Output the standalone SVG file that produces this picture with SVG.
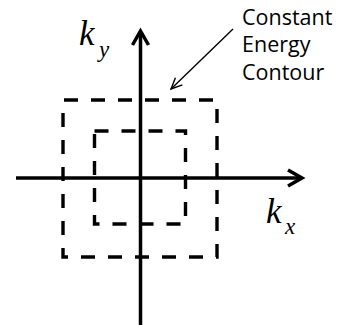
<svg xmlns="http://www.w3.org/2000/svg" width="339" height="325" viewBox="0 0 339 325">
<defs>
<style>
.axis{stroke:#000;stroke-width:3.5;fill:none}
.head{stroke:#000;stroke-width:3.5;fill:none;stroke-linejoin:miter;stroke-linecap:butt}
.contour{stroke:#000;stroke-width:3.4;fill:none;stroke-dasharray:14 13}
.lbl{font-family:"Open Sans","Liberation Sans",sans-serif;font-size:21.5px;fill:#000}
.math{font-family:"Liberation Serif","DejaVu Serif",serif;font-style:italic;fill:#000}
</style>
<marker id="open" markerWidth="14" markerHeight="14" refX="12" refY="6" orient="auto" markerUnits="userSpaceOnUse">
<path d="M1,1 L12,6 L1,11" fill="none" stroke="#000" stroke-width="1.4"/>
</marker>
</defs>
<g id="connectors">
<line class="axis" x1="140.5" y1="325" x2="140.5" y2="32"/>
<path class="head" d="M132.5,45 L140.5,31 L148.5,45"/>
<line class="axis" x1="16" y1="178" x2="301" y2="178"/>
<path class="head" d="M288,170 L302,178 L288,186"/>
<line x1="233" y1="29" x2="171" y2="89" stroke="#000" stroke-width="1.4" marker-end="url(#open)"/>
</g>
<g id="outer-contour">
<rect class="contour" x="63" y="100" width="154" height="157" stroke-dashoffset="-1"/>
</g>
<g id="inner-contour">
<rect class="contour" x="94.5" y="131" width="91" height="93"/>
</g>
<g id="label-ky">
<text class="math" x="79" y="45" font-size="35">k</text>
<text class="math" x="99" y="57" font-size="23">y</text>
</g>
<g id="label-kx">
<text class="math" x="266" y="223" font-size="35">k</text>
<text class="math" x="285" y="234" font-size="23">x</text>
</g>
<g id="label-contour">
<text class="lbl" x="242" y="25">Constant</text>
<text class="lbl" x="242" y="52">Energy</text>
<text class="lbl" x="242" y="80">Contour</text>
</g>
</svg>
